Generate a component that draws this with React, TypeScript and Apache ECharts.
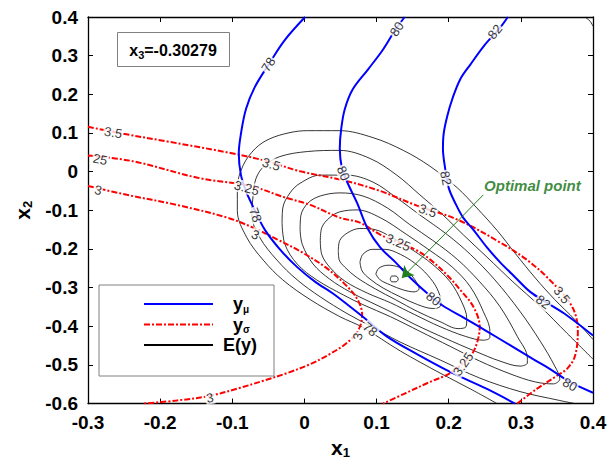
import React, { useEffect, useRef } from 'react';
import * as echarts from 'echarts';

const FONT = '"Liberation Sans", Arial, sans-serif';

const xTickLabels = ['-0.3', '-0.2', '-0.1', '0', '0.1', '0.2', '0.3', '0.4'];
const yTickLabels = ['-0.6', '-0.5', '-0.4', '-0.3', '-0.2', '-0.1', '0', '0.1', '0.2', '0.3', '0.4'];
const x3Value = '-0.30279';
const legendNames = ['yμ', 'yσ', 'E(y)'];

// y_mu contours (blue)
const mu78 = [[0.001,0.400],[-0.027,0.341],[-0.048,0.282],[-0.069,0.218],[-0.081,0.162],[-0.088,0.098],[-0.091,0.047],[-0.088,-0.009],[-0.080,-0.055],[-0.069,-0.099],[-0.055,-0.150],[-0.034,-0.201],[-0.010,-0.247],[0.015,-0.285],[0.040,-0.316],[0.063,-0.349],[0.084,-0.380],[0.114,-0.426],[0.156,-0.472],[0.202,-0.518],[0.253,-0.562],[0.292,-0.600]];
const mu80 = [[0.139,0.400],[0.126,0.367],[0.109,0.316],[0.088,0.264],[0.067,0.213],[0.056,0.162],[0.051,0.111],[0.049,0.060],[0.052,0.009],[0.060,-0.030],[0.073,-0.081],[0.087,-0.145],[0.105,-0.196],[0.126,-0.234],[0.146,-0.273],[0.171,-0.316],[0.192,-0.347],[0.223,-0.380],[0.253,-0.413],[0.285,-0.449],[0.317,-0.485],[0.340,-0.510],[0.368,-0.544],[0.400,-0.572]];
const mu82 = [[0.282,0.400],[0.271,0.372],[0.250,0.328],[0.230,0.277],[0.216,0.239],[0.205,0.188],[0.198,0.144],[0.193,0.098],[0.192,0.060],[0.195,0.009],[0.200,-0.042],[0.209,-0.081],[0.220,-0.119],[0.234,-0.150],[0.253,-0.196],[0.271,-0.234],[0.292,-0.273],[0.313,-0.311],[0.336,-0.339],[0.364,-0.372],[0.400,-0.424]];

// y_sigma contours (red)
const sigma35 = [[-0.300,0.116],[-0.251,0.098],[-0.190,0.078],[-0.099,0.047],[-0.052,0.027],[-0.006,0.001],[0.053,-0.022],[0.105,-0.050],[0.156,-0.088],[0.212,-0.124],[0.271,-0.183],[0.309,-0.229],[0.340,-0.280],[0.371,-0.349],[0.379,-0.413],[0.375,-0.477],[0.364,-0.510],[0.350,-0.528],[0.322,-0.562],[0.295,-0.600]];
const sigma325 = [[-0.300,0.042],[-0.238,0.027],[-0.145,-0.017],[-0.075,-0.037],[-0.030,-0.065],[0.008,-0.086],[0.049,-0.119],[0.077,-0.132],[0.105,-0.163],[0.130,-0.183],[0.156,-0.204],[0.174,-0.227],[0.198,-0.268],[0.216,-0.306],[0.234,-0.349],[0.243,-0.401],[0.239,-0.444],[0.230,-0.477],[0.202,-0.521],[0.174,-0.544],[0.139,-0.574],[0.109,-0.600]];
const sigma3 = [[-0.300,-0.037],[-0.246,-0.060],[-0.177,-0.086],[-0.107,-0.119],[-0.071,-0.145],[-0.038,-0.175],[-0.006,-0.206],[0.029,-0.247],[0.056,-0.291],[0.073,-0.329],[0.080,-0.370],[0.074,-0.413],[0.056,-0.447],[0.035,-0.472],[0.008,-0.498],[-0.024,-0.521],[-0.057,-0.541],[-0.089,-0.559],[-0.131,-0.580],[-0.177,-0.592],[-0.224,-0.600]];

// E(y) contours (black)
const eC1 = [[0.267,-0.600],[0.230,-0.562],[0.188,-0.521],[0.133,-0.464],[0.081,-0.403],[0.049,-0.375],[0.008,-0.331],[-0.030,-0.280],[-0.057,-0.229],[-0.080,-0.170],[-0.093,-0.101],[-0.093,-0.042],[-0.085,0.016],[-0.068,0.060],[-0.048,0.085],[-0.020,0.101],[0.004,0.106],[0.049,0.106],[0.095,0.088],[0.137,0.055],[0.174,0.014],[0.212,-0.042],[0.239,-0.094],[0.267,-0.152],[0.292,-0.211],[0.320,-0.275],[0.347,-0.331],[0.375,-0.383],[0.400,-0.434]];
const eC2 = [[0.375,-0.600],[0.354,-0.592],[0.299,-0.569],[0.243,-0.534],[0.188,-0.487],[0.133,-0.441],[0.087,-0.395],[0.059,-0.367],[0.022,-0.324],[-0.010,-0.280],[-0.038,-0.229],[-0.062,-0.170],[-0.073,-0.112],[-0.071,-0.060],[-0.067,-0.017],[-0.056,0.014],[-0.034,0.039],[0.004,0.052],[0.049,0.055],[0.091,0.034],[0.128,-0.009],[0.160,-0.060],[0.192,-0.112],[0.220,-0.163],[0.253,-0.221],[0.289,-0.285],[0.327,-0.349],[0.364,-0.418],[0.400,-0.485]];
const eC3 = [[-0.031,-0.132],[-0.030,-0.094],[-0.020,-0.055],[-0.006,-0.030],[0.022,-0.009],[0.059,-0.009],[0.095,-0.027],[0.128,-0.068],[0.160,-0.112],[0.198,-0.163],[0.230,-0.214],[0.264,-0.280],[0.299,-0.362],[0.327,-0.439],[0.347,-0.503],[0.354,-0.536],[0.345,-0.549],[0.320,-0.544],[0.285,-0.523],[0.243,-0.490],[0.202,-0.452],[0.160,-0.413],[0.119,-0.375],[0.081,-0.344],[0.054,-0.319],[0.017,-0.280],[-0.010,-0.239],[-0.027,-0.188],[-0.031,-0.132]];
const eC4 = [[-0.006,-0.150],[-0.005,-0.114],[0.005,-0.081],[0.022,-0.063],[0.049,-0.055],[0.081,-0.063],[0.115,-0.094],[0.146,-0.137],[0.178,-0.178],[0.212,-0.227],[0.243,-0.285],[0.271,-0.349],[0.295,-0.426],[0.309,-0.482],[0.309,-0.495],[0.299,-0.503],[0.271,-0.490],[0.236,-0.464],[0.195,-0.431],[0.153,-0.395],[0.119,-0.362],[0.091,-0.337],[0.063,-0.311],[0.035,-0.278],[0.012,-0.239],[-0.003,-0.188],[-0.006,-0.150]];
const eC5 = [[0.022,-0.178],[0.024,-0.145],[0.035,-0.119],[0.049,-0.104],[0.073,-0.099],[0.105,-0.119],[0.142,-0.163],[0.174,-0.204],[0.205,-0.247],[0.230,-0.298],[0.248,-0.362],[0.257,-0.413],[0.257,-0.429],[0.248,-0.436],[0.223,-0.426],[0.188,-0.401],[0.153,-0.370],[0.119,-0.339],[0.087,-0.314],[0.056,-0.283],[0.035,-0.247],[0.024,-0.214],[0.022,-0.178]];
const eC6 = [[0.047,-0.204],[0.049,-0.178],[0.060,-0.158],[0.077,-0.147],[0.098,-0.150],[0.121,-0.170],[0.151,-0.204],[0.177,-0.239],[0.202,-0.285],[0.218,-0.337],[0.225,-0.380],[0.224,-0.401],[0.213,-0.406],[0.188,-0.388],[0.157,-0.362],[0.126,-0.331],[0.098,-0.303],[0.072,-0.273],[0.056,-0.247],[0.048,-0.227],[0.047,-0.204]];
const eC7 = [[0.077,-0.234],[0.081,-0.214],[0.094,-0.201],[0.112,-0.201],[0.133,-0.214],[0.153,-0.237],[0.171,-0.268],[0.184,-0.303],[0.189,-0.337],[0.188,-0.349],[0.178,-0.354],[0.157,-0.344],[0.133,-0.324],[0.109,-0.301],[0.091,-0.278],[0.080,-0.257],[0.077,-0.234]];
const eC8 = [[0.099,-0.265],[0.103,-0.250],[0.116,-0.242],[0.131,-0.247],[0.145,-0.262],[0.155,-0.285],[0.159,-0.303],[0.152,-0.311],[0.137,-0.306],[0.119,-0.293],[0.105,-0.280],[0.099,-0.265]];
const eC9 = [[0.119,-0.278],[0.121,-0.270],[0.127,-0.270],[0.130,-0.278],[0.127,-0.285],[0.121,-0.285],[0.119,-0.278]];
const eCorner = [[0.389,0.400],[0.396,0.389],[0.400,0.376]];

// contour labels: [text, x1, x2, rotation]
const muLabels: [string, number, number, number][] = [
  ['78', -0.050, 0.277, 58], ['78', -0.068, -0.112, -70], ['78', 0.091, -0.408, -39],
  ['80', 0.128, 0.369, 56], ['80', 0.054, -0.004, -68], ['80', 0.179, -0.329, -39], ['80', 0.368, -0.551, -29],
  ['82', 0.264, 0.362, 51], ['82', 0.196, -0.017, -79], ['82', 0.331, -0.337, -37],
];
const sigmaLabels: [string, number, number, number][] = [
  ['3.5', -0.265, 0.101, -10], ['3.5', -0.046, 0.019, -17], ['3.5', 0.171, -0.101, -19], ['3.5', 0.357, -0.319, -51],
  ['25', -0.283, 0.032, -12], ['3.25', -0.080, -0.042, -15], ['3.25', 0.130, -0.183, -23], ['3.25', 0.220, -0.498, 55],
  ['3', -0.286, -0.048, -12], ['3', -0.068, -0.163, -25], ['3', 0.074, -0.426, 80], ['3', -0.131, -0.585, 12],
];

const optimalPoint = [0.135, -0.275];
const optimalArrowStart = [0.248, -0.060];
const optimalTextPos = [0.316, -0.036];

export default function App() {
  const ref = useRef<HTMLDivElement>(null);
  useEffect(() => {
    if (!ref.current) return;
    const chart = echarts.init(ref.current, undefined, { renderer: 'svg' });

    const lineSeries = (name: string, data: number[][], color: string, width: number, type: any, z: number) => ({
      type: 'line', name, data, smooth: 0.35, symbol: 'none', showSymbol: false, z,
      lineStyle: { color, width, type }, itemStyle: { color }, silent: true,
    });

    const blue = [mu78, mu80, mu82].map(d => lineSeries('yμ', d, '#0000ff', 2, 'solid', 4));
    const red = [sigma35, sigma325, sigma3].map(d => lineSeries('yσ', d, '#ff0000', 2, [6, 2, 2, 2], 3));
    const black = [eC1, eC2, eC3, eC4, eC5, eC6, eC7, eC8, eC9, eCorner].map(d => lineSeries('E(y)', d, '#000000', 0.8, 'solid', 2));

    const labelData = [...muLabels, ...sigmaLabels].map(([t, x, y, r]) => ({
      name: t, value: [x, y], label: { rotate: r },
    }));

    const axisCommon = {
      type: 'value', splitLine: { show: false },
      axisLine: { show: true, onZero: false, lineStyle: { color: '#000', width: 1.3 } },
      axisTick: { show: true, inside: true, length: 5, lineStyle: { color: '#000', width: 1 } },
    };
    const nameRich = {
      b: { fontSize: 21, fontWeight: 'bold', fontFamily: FONT, color: '#000', lineHeight: 24 },
      s: { fontSize: 13, fontWeight: 'bold', fontFamily: FONT, color: '#000', lineHeight: 13, verticalAlign: 'bottom' },
    };
    const tickLabelStyle = { fontSize: 19, fontWeight: 'bold', fontFamily: FONT, color: '#000' };

    chart.setOption({
      animation: false,
      backgroundColor: '#fff',
      grid: { left: 88, top: 17, right: 18, bottom: 56, containLabel: false },
      xAxis: [
        {
          ...axisCommon, position: 'bottom', min: -0.3, max: 0.4, interval: 0.1,
          axisLabel: { ...tickLabelStyle, margin: 9, formatter: (v: number) => xTickLabels[Math.round((v + 0.3) / 0.1)] ?? '' },
          name: '{b|x}{s|1}', nameLocation: 'middle', nameGap: 27, nameTextStyle: { rich: nameRich },
        },
        { ...axisCommon, position: 'top', min: -0.3, max: 0.4, interval: 0.1, axisLabel: { show: false } },
      ],
      yAxis: [
        {
          ...axisCommon, position: 'left', min: -0.6, max: 0.4, interval: 0.1,
          axisLabel: { ...tickLabelStyle, margin: 10, formatter: (v: number) => yTickLabels[Math.round((v + 0.6) / 0.1)] ?? '' },
          name: '{b|x}{s|2}', nameLocation: 'middle', nameGap: 52, nameRotate: 90, nameTextStyle: { rich: nameRich },
        },
        { ...axisCommon, position: 'right', min: -0.6, max: 0.4, interval: 0.1, axisLabel: { show: false } },
      ],
      legend: {
        data: legendNames, orient: 'vertical', left: 99, top: 285,
        padding: [10, 17, 22, 44], itemWidth: 69, itemHeight: 20, itemGap: 1.5,
        borderColor: '#808080', borderWidth: 1, backgroundColor: '#fff', borderRadius: 0,
        selectedMode: false, z: 20,
        itemStyle: { opacity: 0, borderWidth: 0 },
        formatter: (n: string) => n === 'yμ' ? '{p|y}{s|μ}' : n === 'yσ' ? '{p|y}{s|σ}' : '{b|E(y)}',
        textStyle: {
          rich: {
            b: { fontSize: 18, fontWeight: 'bold', fontFamily: FONT, color: '#000', lineHeight: 20, padding: [0, 0, 0, 5] },
            p: { fontSize: 18, fontWeight: 'bold', fontFamily: FONT, color: '#000', lineHeight: 20, padding: [0, 0, 0, 15] },
            s: { fontSize: 10, fontWeight: 'bold', fontFamily: FONT, color: '#000', lineHeight: 10, verticalAlign: 'bottom' },
          },
        },
      },
      graphic: [{
        type: 'group', left: 117, top: 32, z: 100,
        children: [
          { type: 'rect', shape: { x: 0.5, y: 0.5, width: 112, height: 34 }, style: { fill: '#fff', stroke: '#808080', lineWidth: 1 } },
          {
            type: 'text', x: 56, y: 18,
            style: {
              text: '{b|x}{s|3}{b|=' + x3Value + '}', align: 'center', verticalAlign: 'middle',
              rich: {
                b: { fontSize: 16, fontWeight: 'bold', fontFamily: FONT, fill: '#000', lineHeight: 20 },
                s: { fontSize: 11, fontWeight: 'bold', fontFamily: FONT, fill: '#000', lineHeight: 11, verticalAlign: 'bottom' },
              },
            },
          },
        ],
      }],
      series: [
        ...black, ...red, ...blue,
        {
          type: 'scatter', name: 'labels', data: labelData, symbolSize: 0, z: 6, silent: true,
          label: {
            show: true, position: 'inside', formatter: '{b}', fontSize: 13, fontFamily: FONT, color: '#000',
            backgroundColor: '#fff', padding: [0, 1],
          },
        },
        {
          type: 'lines', coordinateSystem: 'cartesian2d', z: 7, silent: true,
          symbol: ['none', 'arrow'], symbolSize: 11,
          lineStyle: { color: '#1f7f1f', width: 1, opacity: 1 },
          data: [{ coords: [optimalArrowStart, optimalPoint] }],
        },
        {
          type: 'scatter', name: 'optimal', symbolSize: 0, z: 7, silent: true,
          data: [{ name: 'Optimal point', value: optimalTextPos }],
          label: {
            show: true, position: 'inside', formatter: '{b}', fontSize: 15, fontWeight: 'bold', fontStyle: 'italic',
            fontFamily: FONT, color: '#0b6e0b',
          },
        },
      ],
    });
    return () => chart.dispose();
  }, []);
  return <div ref={ref} style={{ position: 'fixed', left: 0, top: 0, width: 611, height: 464, background: '#fff' }} />;
}
